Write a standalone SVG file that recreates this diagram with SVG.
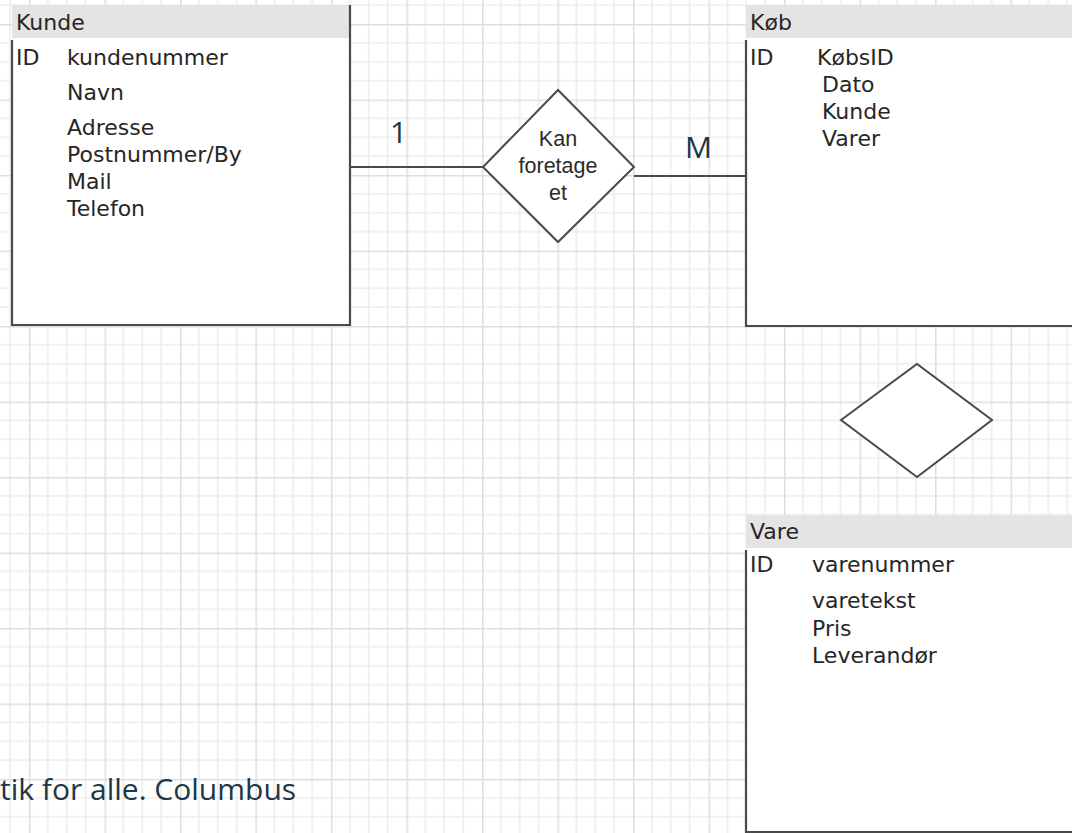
<svg xmlns="http://www.w3.org/2000/svg" width="1072" height="833" viewBox="0 0 1072 833">
<style>
.hdr{fill:#e4e4e4;stroke:none}
.body{fill:#ffffff;stroke:none}
.brd{fill:none;stroke:#4a4a4a;stroke-width:2.2}
.t{font-family:"DejaVu Sans",Verdana,sans-serif;font-size:22px;fill:#262626}
.dt{font-family:"Liberation Sans",Arial,sans-serif;font-size:21.5px;fill:#2b2b2b;text-anchor:middle}
.lbl{font-family:"Open Sans","Liberation Sans",sans-serif;font-size:30px;fill:#213647}
.dia{fill:#ffffff;stroke:#4a4a4a;stroke-width:2}
.con{stroke:#4a4a4a;stroke-width:2;fill:none}
</style>
<defs>
<pattern id="grid" patternUnits="userSpaceOnUse" x="29" y="24" width="75.5" height="75.5">
<g stroke="#ececec" stroke-width="1.5">
<line x1="18.875" y1="0" x2="18.875" y2="75.5"/>
<line x1="37.75" y1="0" x2="37.75" y2="75.5"/>
<line x1="56.625" y1="0" x2="56.625" y2="75.5"/>
<line x1="0" y1="18.875" x2="75.5" y2="18.875"/>
<line x1="0" y1="37.75" x2="75.5" y2="37.75"/>
<line x1="0" y1="56.625" x2="75.5" y2="56.625"/>
</g>
<g stroke="#dedede" stroke-width="2">
<line x1="0.5" y1="0" x2="0.5" y2="75.5"/>
<line x1="0" y1="0.5" x2="75.5" y2="0.5"/>
</g>
</pattern>
</defs>
<rect width="1072" height="833" fill="#ffffff"/>
<rect width="1072" height="833" fill="url(#grid)"/>

<g id="connectors">
<line class="con" x1="350" y1="167" x2="483" y2="167"/>
<line class="con" x1="634" y1="176" x2="746" y2="176"/>
</g>

<g id="kunde">
<rect class="body" x="12" y="5" width="338" height="320"/>
<rect class="hdr" x="12" y="5" width="338" height="33"/>
<path class="brd" d="M12,40 V325 H350 V5"/>
<text class="t" x="16" y="30">Kunde</text>
<text class="t" x="16" y="65">ID</text>
<text class="t" x="67" y="65">kundenummer</text>
<text class="t" x="67" y="100">Navn</text>
<text class="t" x="67" y="135">Adresse</text>
<text class="t" x="67" y="162">Postnummer/By</text>
<text class="t" x="67" y="189">Mail</text>
<text class="t" x="67" y="216">Telefon</text>
</g>

<g id="kan-foretage">
<polygon class="dia" points="483,167 558,90 634,167 558,242"/>
<text class="dt" x="558" y="146">Kan</text>
<text class="dt" x="558" y="173">foretage</text>
<text class="dt" x="558" y="200">et</text>
</g>

<g id="label-1">
<text class="lbl" x="390" y="143">1</text>
</g>
<g id="label-M">
<text class="lbl" x="685" y="158">M</text>
</g>

<g id="koeb">
<rect class="body" x="746" y="5" width="330" height="320"/>
<rect class="hdr" x="746" y="5" width="330" height="33"/>
<path class="brd" d="M746,40 V326 H1074"/>
<text class="t" x="750" y="30">Køb</text>
<text class="t" x="750" y="65">ID</text>
<text class="t" x="817" y="65">KøbsID</text>
<text class="t" x="822" y="92">Dato</text>
<text class="t" x="822" y="119">Kunde</text>
<text class="t" x="822" y="146">Varer</text>
</g>

<g id="relation-2">
<polygon class="dia" points="841,420 917,364 992,420 917,477"/>
</g>

<g id="vare">
<rect class="body" x="746" y="515" width="330" height="317"/>
<rect class="hdr" x="746" y="515" width="330" height="33"/>
<path class="brd" d="M746,550 V832 H1074"/>
<text class="t" x="750" y="539">Vare</text>
<text class="t" x="750" y="572">ID</text>
<text class="t" x="812" y="572">varenummer</text>
<text class="t" x="812" y="608">varetekst</text>
<text class="t" x="812" y="636">Pris</text>
<text class="t" x="812" y="663">Leverandør</text>
</g>

<g id="caption">
<text class="lbl" x="0" y="800">tik for alle. Columbus</text>
</g>
</svg>
